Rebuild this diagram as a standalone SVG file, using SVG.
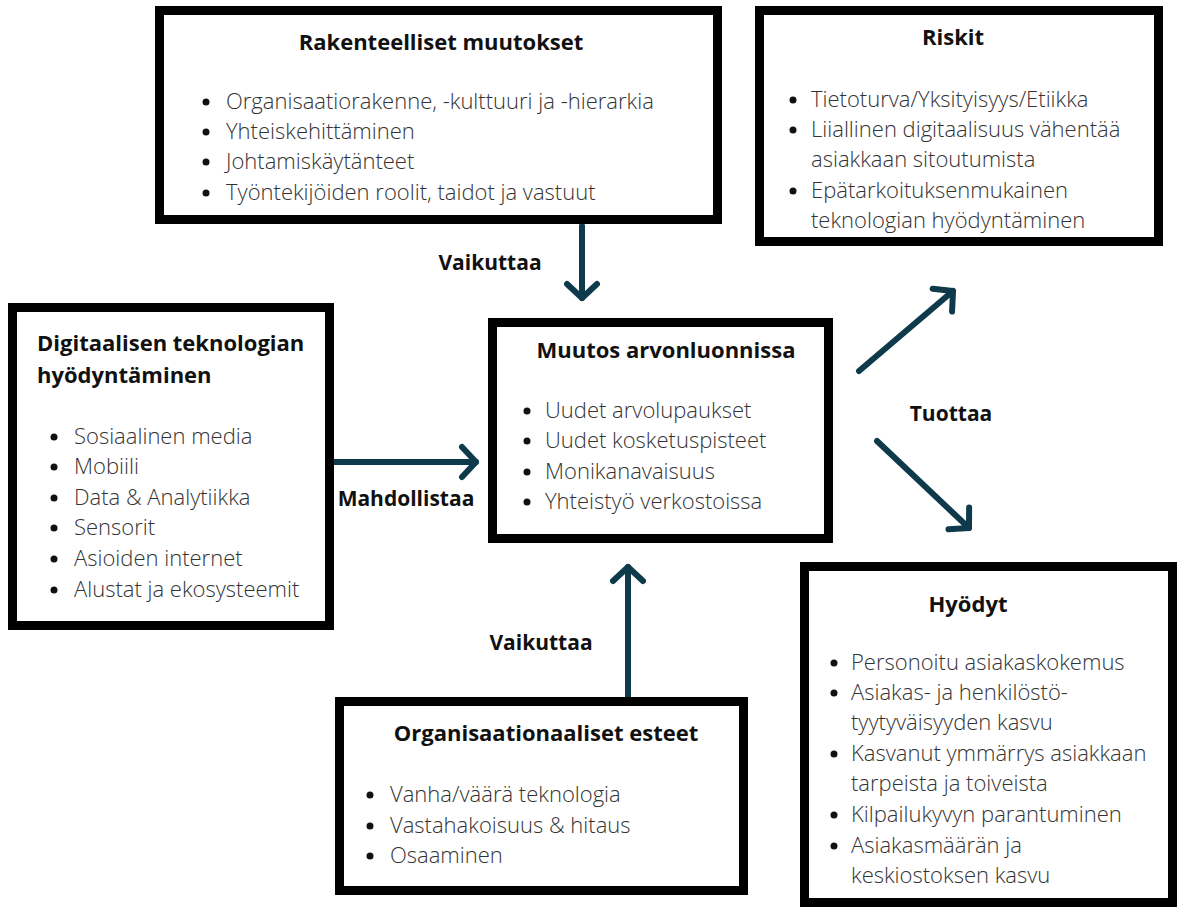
<svg xmlns="http://www.w3.org/2000/svg" width="1183" height="910" viewBox="0 0 1183 910">
  <style>
    .box { fill: #ffffff; stroke: #000000; stroke-width: 9; }
    .title { font-family: "Open Sans", "Noto Sans", "Liberation Sans", sans-serif; font-weight: 700; font-size: 22px; fill: #111111; }
    .item { font-family: "Open Sans", "Noto Sans", "Liberation Sans", sans-serif; font-weight: 300; font-size: 22px; fill: #333333; }
    .label { font-family: "Open Sans", "Noto Sans", "Liberation Sans", sans-serif; font-weight: 700; font-size: 21px; fill: #111111; }
    .dot { fill: #111111; }
    .link { fill: none; stroke: #0e3a4c; stroke-width: 6; stroke-linecap: round; marker-end: url(#chev); }
  </style>
  <defs>
    <marker id="chev" viewBox="-18 -19 22 38" refX="0" refY="0" markerWidth="22" markerHeight="38" markerUnits="userSpaceOnUse" orient="auto">
      <path d="M-14,-15 L0,0 L-14,15" fill="none" stroke="#0e3a4c" stroke-width="6" stroke-linecap="round" stroke-linejoin="round"/>
    </marker>
  </defs>

  <rect width="1183" height="910" fill="#ffffff"/>

  <!-- connectors -->
  <g id="connectors">
    <line class="link" x1="582" y1="226" x2="582" y2="298"/>
    <line class="link" x1="334" y1="462" x2="476" y2="462"/>
    <line class="link" x1="628" y1="697" x2="628" y2="567"/>
    <line class="link" x1="859" y1="371" x2="953" y2="291"/>
    <line class="link" x1="877" y1="441" x2="969" y2="528"/>
    <text class="label" x="490" y="270" text-anchor="middle">Vaikuttaa</text>
    <text class="label" x="406" y="506" text-anchor="middle">Mahdollistaa</text>
    <text class="label" x="541" y="650" text-anchor="middle">Vaikuttaa</text>
    <text class="label" x="951" y="421" text-anchor="middle">Tuottaa</text>
  </g>

  <!-- structural changes -->
  <g id="rakenteelliset">
    <rect class="box" x="159.5" y="10.5" width="558" height="209"/>
    <text class="title" x="441" y="50" text-anchor="middle">Rakenteelliset muutokset</text>
    <circle class="dot" cx="206" cy="102" r="3.5"/>
    <circle class="dot" cx="206" cy="132" r="3.5"/>
    <circle class="dot" cx="206" cy="162" r="3.5"/>
    <circle class="dot" cx="206" cy="193" r="3.5"/>
    <text class="item" x="226" y="109">Organisaatiorakenne, -kulttuuri ja -hierarkia</text>
    <text class="item" x="226" y="139">Yhteiskehittäminen</text>
    <text class="item" x="226" y="169">Johtamiskäytänteet</text>
    <text class="item" x="226" y="200">Työntekijöiden roolit, taidot ja vastuut</text>
  </g>

  <!-- risks -->
  <g id="riskit">
    <rect class="box" x="759.5" y="10.5" width="399" height="231"/>
    <text class="title" x="953" y="45" text-anchor="middle">Riskit</text>
    <circle class="dot" cx="793" cy="100" r="3.5"/>
    <circle class="dot" cx="793" cy="130" r="3.5"/>
    <circle class="dot" cx="793" cy="191" r="3.5"/>
    <text class="item" x="811" y="107">Tietoturva/Yksityisyys/Etiikka</text>
    <text class="item" x="811" y="137">Liiallinen digitaalisuus vähentää</text>
    <text class="item" x="811" y="167">asiakkaan sitoutumista</text>
    <text class="item" x="811" y="198">Epätarkoituksenmukainen</text>
    <text class="item" x="811" y="228">teknologian hyödyntäminen</text>
  </g>

  <!-- digital technology -->
  <g id="digitaalinen">
    <rect class="box" x="12.5" y="307.5" width="317" height="318"/>
    <text class="title" x="37" y="351">Digitaalisen teknologian</text>
    <text class="title" x="37" y="383">hyödyntäminen</text>
    <circle class="dot" cx="54" cy="437" r="3.5"/>
    <circle class="dot" cx="54" cy="467" r="3.5"/>
    <circle class="dot" cx="54" cy="498" r="3.5"/>
    <circle class="dot" cx="54" cy="528" r="3.5"/>
    <circle class="dot" cx="54" cy="559" r="3.5"/>
    <circle class="dot" cx="54" cy="590" r="3.5"/>
    <text class="item" x="74" y="444">Sosiaalinen media</text>
    <text class="item" x="74" y="474">Mobiili</text>
    <text class="item" x="74" y="505">Data &amp; Analytiikka</text>
    <text class="item" x="74" y="535">Sensorit</text>
    <text class="item" x="74" y="566">Asioiden internet</text>
    <text class="item" x="74" y="597">Alustat ja ekosysteemit</text>
  </g>

  <!-- value creation -->
  <g id="arvonluonti">
    <rect class="box" x="492.5" y="322.5" width="336" height="216"/>
    <text class="title" x="666" y="358" text-anchor="middle">Muutos arvonluonnissa</text>
    <circle class="dot" cx="527" cy="411" r="3.5"/>
    <circle class="dot" cx="527" cy="441" r="3.5"/>
    <circle class="dot" cx="527" cy="472" r="3.5"/>
    <circle class="dot" cx="527" cy="502" r="3.5"/>
    <text class="item" x="545" y="418">Uudet arvolupaukset</text>
    <text class="item" x="545" y="448">Uudet kosketuspisteet</text>
    <text class="item" x="545" y="479">Monikanavaisuus</text>
    <text class="item" x="545" y="509">Yhteistyö verkostoissa</text>
  </g>

  <!-- organisational barriers -->
  <g id="esteet">
    <rect class="box" x="339.5" y="701.5" width="404" height="189"/>
    <text class="title" x="546" y="741" text-anchor="middle">Organisaationaaliset esteet</text>
    <circle class="dot" cx="370" cy="795" r="3.5"/>
    <circle class="dot" cx="370" cy="826" r="3.5"/>
    <circle class="dot" cx="370" cy="856" r="3.5"/>
    <text class="item" x="390" y="802">Vanha/väärä teknologia</text>
    <text class="item" x="390" y="833">Vastahakoisuus &amp; hitaus</text>
    <text class="item" x="390" y="863">Osaaminen</text>
  </g>

  <!-- benefits -->
  <g id="hyodyt">
    <rect class="box" x="804.5" y="566.5" width="368" height="336"/>
    <text class="title" x="968" y="612" text-anchor="middle">Hyödyt</text>
    <circle class="dot" cx="834" cy="663" r="3.5"/>
    <circle class="dot" cx="834" cy="693" r="3.5"/>
    <circle class="dot" cx="834" cy="754" r="3.5"/>
    <circle class="dot" cx="834" cy="815" r="3.5"/>
    <circle class="dot" cx="834" cy="846" r="3.5"/>
    <text class="item" x="851" y="670">Personoitu asiakaskokemus</text>
    <text class="item" x="851" y="700">Asiakas- ja henkilöstö-</text>
    <text class="item" x="851" y="730">tyytyväisyyden kasvu</text>
    <text class="item" x="851" y="761">Kasvanut ymmärrys asiakkaan</text>
    <text class="item" x="851" y="791">tarpeista ja toiveista</text>
    <text class="item" x="851" y="822">Kilpailukyvyn parantuminen</text>
    <text class="item" x="851" y="853">Asiakasmäärän ja</text>
    <text class="item" x="851" y="883">keskiostoksen kasvu</text>
  </g>
</svg>
